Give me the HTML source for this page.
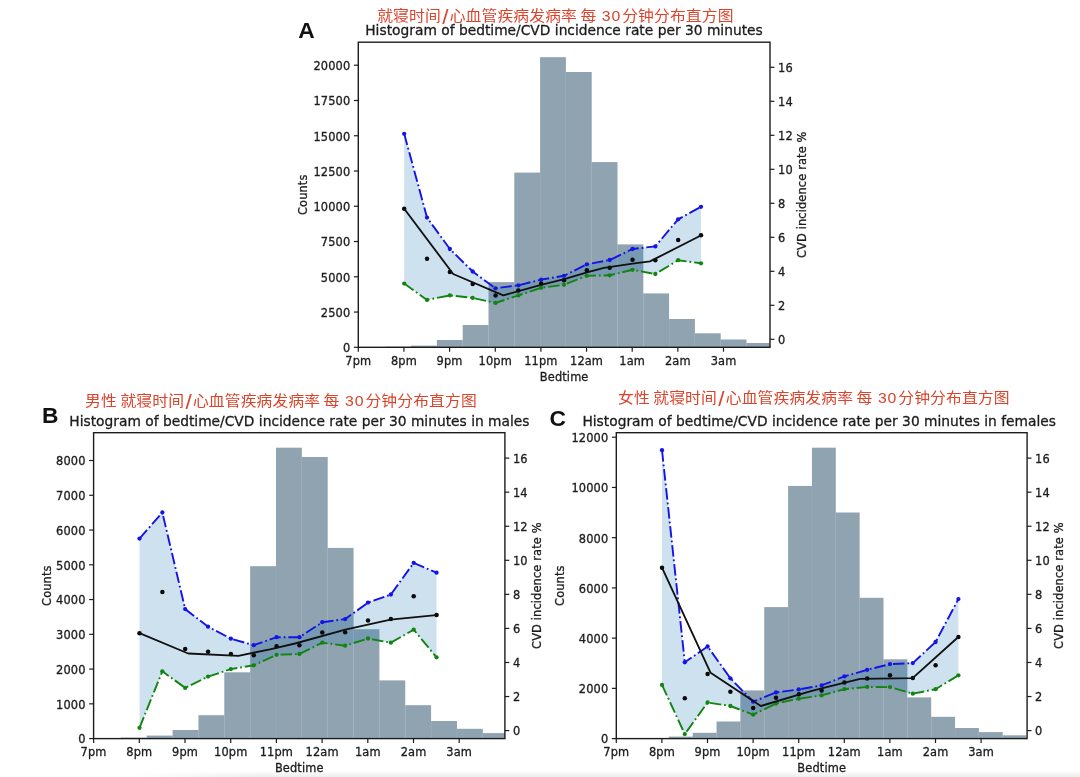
<!DOCTYPE html>
<html lang="zh">
<head>
<meta charset="utf-8">
<title>Histogram of bedtime/CVD incidence rate per 30 minutes</title>
<style>
html,body{margin:0;padding:0;background:#fff;}
body{width:1080px;height:777px;overflow:hidden;position:relative;}
svg{display:block;position:absolute;left:0;top:0;filter:blur(0.5px);}
svg text{font-family:"DejaVu Sans", "Liberation Sans", sans-serif;fill:#1c1c1c;stroke:#1c1c1c;stroke-width:0.3px;letter-spacing:0.13px;}
.shadow{position:absolute;left:130px;right:0;bottom:0;height:6px;background:linear-gradient(to bottom,rgba(0,0,0,0),rgba(0,0,0,0.075));-webkit-mask-image:linear-gradient(to right,rgba(0,0,0,0),rgba(0,0,0,1) 130px);mask-image:linear-gradient(to right,rgba(0,0,0,0),rgba(0,0,0,1) 130px);}
</style>
</head>
<body>
<svg width="1080" height="777" viewBox="0 0 1080 777">
<rect x="0" y="0" width="1080" height="777" fill="#ffffff"/>
<clipPath id="clipa"><rect x="358.3" y="42.2" width="411.7" height="305.1"/></clipPath>
<g clip-path="url(#clipa)">
<rect x="385.3" y="346.7" width="25.8" height="0.6" fill="#90a3b0"/>
<rect x="411.1" y="345.6" width="25.8" height="1.7" fill="#90a3b0"/>
<rect x="436.9" y="340" width="25.8" height="7.3" fill="#90a3b0"/>
<rect x="462.7" y="325" width="25.8" height="22.3" fill="#90a3b0"/>
<rect x="488.5" y="282.1" width="25.8" height="65.2" fill="#90a3b0"/>
<rect x="514.3" y="172.6" width="25.8" height="174.7" fill="#90a3b0"/>
<rect x="540.1" y="57.2" width="25.8" height="290.1" fill="#90a3b0"/>
<rect x="565.9" y="72" width="25.8" height="275.3" fill="#90a3b0"/>
<rect x="591.7" y="162.1" width="25.8" height="185.2" fill="#90a3b0"/>
<rect x="617.5" y="244.4" width="25.8" height="102.9" fill="#90a3b0"/>
<rect x="643.3" y="293.4" width="25.8" height="53.9" fill="#90a3b0"/>
<rect x="669.1" y="319" width="25.8" height="28.3" fill="#90a3b0"/>
<rect x="694.9" y="333.3" width="25.8" height="14" fill="#90a3b0"/>
<rect x="720.7" y="339.5" width="25.8" height="7.8" fill="#90a3b0"/>
<rect x="746.5" y="343" width="25.8" height="4.3" fill="#90a3b0"/>
<rect x="772.3" y="345" width="25.8" height="2.3" fill="#90a3b0"/>
<line x1="411.1" x2="411.1" y1="346.7" y2="347.3" stroke="#9aacb8" stroke-width="0.5"/>
<line x1="436.9" x2="436.9" y1="345.6" y2="347.3" stroke="#9aacb8" stroke-width="0.5"/>
<line x1="462.7" x2="462.7" y1="340" y2="347.3" stroke="#9aacb8" stroke-width="0.5"/>
<line x1="488.5" x2="488.5" y1="325" y2="347.3" stroke="#9aacb8" stroke-width="0.5"/>
<line x1="514.3" x2="514.3" y1="282.1" y2="347.3" stroke="#9aacb8" stroke-width="0.5"/>
<line x1="540.1" x2="540.1" y1="172.6" y2="347.3" stroke="#9aacb8" stroke-width="0.5"/>
<line x1="565.9" x2="565.9" y1="72" y2="347.3" stroke="#9aacb8" stroke-width="0.5"/>
<line x1="591.7" x2="591.7" y1="162.1" y2="347.3" stroke="#9aacb8" stroke-width="0.5"/>
<line x1="617.5" x2="617.5" y1="244.4" y2="347.3" stroke="#9aacb8" stroke-width="0.5"/>
<line x1="643.3" x2="643.3" y1="293.4" y2="347.3" stroke="#9aacb8" stroke-width="0.5"/>
<line x1="669.1" x2="669.1" y1="319" y2="347.3" stroke="#9aacb8" stroke-width="0.5"/>
<line x1="694.9" x2="694.9" y1="333.3" y2="347.3" stroke="#9aacb8" stroke-width="0.5"/>
<line x1="720.7" x2="720.7" y1="339.5" y2="347.3" stroke="#9aacb8" stroke-width="0.5"/>
<line x1="746.5" x2="746.5" y1="343" y2="347.3" stroke="#9aacb8" stroke-width="0.5"/>
<line x1="772.3" x2="772.3" y1="345" y2="347.3" stroke="#9aacb8" stroke-width="0.5"/>
<polygon points="404.2,133.8 427.03,217.6 449.86,249 472.69,271.5 495.52,288.3 518.35,285.3 541.18,279.6 564.01,275.8 586.84,264.3 609.67,260 632.5,249 655.33,246.4 678.16,219.3 700.99,206.8 700.99,263.3 678.16,260.2 655.33,274 632.5,269.8 609.67,275.3 586.84,275.8 564.01,284.8 541.18,287.8 518.35,295.4 495.52,302.9 472.69,297.9 449.86,295.4 427.03,299.9 404.2,283.6" fill="#1f77b4" fill-opacity="0.22"/>
<polyline points="404.2,283.6 427.03,299.9 449.86,295.4 472.69,297.9 495.52,302.9 518.35,295.4 541.18,287.8 564.01,284.8 586.84,275.8 609.67,275.3 632.5,269.8 655.33,274 678.16,260.2 700.99,263.3" fill="none" stroke="#128412" stroke-width="1.9" stroke-dasharray="11.5 2.9 1.8 2.9"/>
<circle cx="404.2" cy="283.6" r="2.15" fill="#128412"/>
<circle cx="427.03" cy="299.9" r="2.15" fill="#128412"/>
<circle cx="449.86" cy="295.4" r="2.15" fill="#128412"/>
<circle cx="472.69" cy="297.9" r="2.15" fill="#128412"/>
<circle cx="495.52" cy="302.9" r="2.15" fill="#128412"/>
<circle cx="518.35" cy="295.4" r="2.15" fill="#128412"/>
<circle cx="541.18" cy="287.8" r="2.15" fill="#128412"/>
<circle cx="564.01" cy="284.8" r="2.15" fill="#128412"/>
<circle cx="586.84" cy="275.8" r="2.15" fill="#128412"/>
<circle cx="609.67" cy="275.3" r="2.15" fill="#128412"/>
<circle cx="632.5" cy="269.8" r="2.15" fill="#128412"/>
<circle cx="655.33" cy="274" r="2.15" fill="#128412"/>
<circle cx="678.16" cy="260.2" r="2.15" fill="#128412"/>
<circle cx="700.99" cy="263.3" r="2.15" fill="#128412"/>
<polyline points="404.2,133.8 427.03,217.6 449.86,249 472.69,271.5 495.52,288.3 518.35,285.3 541.18,279.6 564.01,275.8 586.84,264.3 609.67,260 632.5,249 655.33,246.4 678.16,219.3 700.99,206.8" fill="none" stroke="#1414e6" stroke-width="1.9" stroke-dasharray="11.5 2.9 1.8 2.9"/>
<circle cx="404.2" cy="133.8" r="2.15" fill="#1414e6"/>
<circle cx="427.03" cy="217.6" r="2.15" fill="#1414e6"/>
<circle cx="449.86" cy="249" r="2.15" fill="#1414e6"/>
<circle cx="472.69" cy="271.5" r="2.15" fill="#1414e6"/>
<circle cx="495.52" cy="288.3" r="2.15" fill="#1414e6"/>
<circle cx="518.35" cy="285.3" r="2.15" fill="#1414e6"/>
<circle cx="541.18" cy="279.6" r="2.15" fill="#1414e6"/>
<circle cx="564.01" cy="275.8" r="2.15" fill="#1414e6"/>
<circle cx="586.84" cy="264.3" r="2.15" fill="#1414e6"/>
<circle cx="609.67" cy="260" r="2.15" fill="#1414e6"/>
<circle cx="632.5" cy="249" r="2.15" fill="#1414e6"/>
<circle cx="655.33" cy="246.4" r="2.15" fill="#1414e6"/>
<circle cx="678.16" cy="219.3" r="2.15" fill="#1414e6"/>
<circle cx="700.99" cy="206.8" r="2.15" fill="#1414e6"/>
<circle cx="404.2" cy="208.8" r="2.25" fill="#0a0a0a"/>
<circle cx="427.03" cy="258.7" r="2.25" fill="#0a0a0a"/>
<circle cx="449.86" cy="272" r="2.25" fill="#0a0a0a"/>
<circle cx="472.69" cy="284.1" r="2.25" fill="#0a0a0a"/>
<circle cx="495.52" cy="295.4" r="2.25" fill="#0a0a0a"/>
<circle cx="518.35" cy="290.4" r="2.25" fill="#0a0a0a"/>
<circle cx="541.18" cy="283.6" r="2.25" fill="#0a0a0a"/>
<circle cx="564.01" cy="280.3" r="2.25" fill="#0a0a0a"/>
<circle cx="586.84" cy="270.3" r="2.25" fill="#0a0a0a"/>
<circle cx="609.67" cy="267.8" r="2.25" fill="#0a0a0a"/>
<circle cx="632.5" cy="259.7" r="2.25" fill="#0a0a0a"/>
<circle cx="655.33" cy="260.2" r="2.25" fill="#0a0a0a"/>
<circle cx="678.16" cy="239.9" r="2.25" fill="#0a0a0a"/>
<circle cx="700.99" cy="235.2" r="2.25" fill="#0a0a0a"/>
<polyline points="404.2,208.8 453.2,274 503.3,295.4 541,284.8 564.3,279.1 587,272.3 604,267.8 632.6,263.6 650,261.4 701.3,235.2" fill="none" stroke="#111" stroke-width="1.85" stroke-linejoin="round"/>
</g>
<rect x="358.3" y="42.2" width="411.7" height="305.1" fill="none" stroke="#1c1c1c" stroke-width="1.4"/>
<line x1="358.3" x2="358.3" y1="347.3" y2="351.7" stroke="#1c1c1c" stroke-width="1.2"/>
<text x="358.3" y="364.5" text-anchor="middle" font-size="11.4">7pm</text>
<line x1="403.95" x2="403.95" y1="347.3" y2="351.7" stroke="#1c1c1c" stroke-width="1.2"/>
<text x="403.95" y="364.5" text-anchor="middle" font-size="11.4">8pm</text>
<line x1="449.6" x2="449.6" y1="347.3" y2="351.7" stroke="#1c1c1c" stroke-width="1.2"/>
<text x="449.6" y="364.5" text-anchor="middle" font-size="11.4">9pm</text>
<line x1="495.25" x2="495.25" y1="347.3" y2="351.7" stroke="#1c1c1c" stroke-width="1.2"/>
<text x="495.25" y="364.5" text-anchor="middle" font-size="11.4">10pm</text>
<line x1="540.9" x2="540.9" y1="347.3" y2="351.7" stroke="#1c1c1c" stroke-width="1.2"/>
<text x="540.9" y="364.5" text-anchor="middle" font-size="11.4">11pm</text>
<line x1="586.55" x2="586.55" y1="347.3" y2="351.7" stroke="#1c1c1c" stroke-width="1.2"/>
<text x="586.55" y="364.5" text-anchor="middle" font-size="11.4">12am</text>
<line x1="632.2" x2="632.2" y1="347.3" y2="351.7" stroke="#1c1c1c" stroke-width="1.2"/>
<text x="632.2" y="364.5" text-anchor="middle" font-size="11.4">1am</text>
<line x1="677.85" x2="677.85" y1="347.3" y2="351.7" stroke="#1c1c1c" stroke-width="1.2"/>
<text x="677.85" y="364.5" text-anchor="middle" font-size="11.4">2am</text>
<line x1="723.5" x2="723.5" y1="347.3" y2="351.7" stroke="#1c1c1c" stroke-width="1.2"/>
<text x="723.5" y="364.5" text-anchor="middle" font-size="11.4">3am</text>
<text x="564.15" y="380.6" text-anchor="middle" font-size="11.4">Bedtime</text>
<line x1="353.9" x2="358.3" y1="347.3" y2="347.3" stroke="#1c1c1c" stroke-width="1.2"/>
<text x="350.3" y="352.15" text-anchor="end" font-size="11.4">0</text>
<line x1="353.9" x2="358.3" y1="312.04" y2="312.04" stroke="#1c1c1c" stroke-width="1.2"/>
<text x="350.3" y="316.89" text-anchor="end" font-size="11.4">2500</text>
<line x1="353.9" x2="358.3" y1="276.78" y2="276.78" stroke="#1c1c1c" stroke-width="1.2"/>
<text x="350.3" y="281.63" text-anchor="end" font-size="11.4">5000</text>
<line x1="353.9" x2="358.3" y1="241.52" y2="241.52" stroke="#1c1c1c" stroke-width="1.2"/>
<text x="350.3" y="246.37" text-anchor="end" font-size="11.4">7500</text>
<line x1="353.9" x2="358.3" y1="206.26" y2="206.26" stroke="#1c1c1c" stroke-width="1.2"/>
<text x="350.3" y="211.11" text-anchor="end" font-size="11.4">10000</text>
<line x1="353.9" x2="358.3" y1="171" y2="171" stroke="#1c1c1c" stroke-width="1.2"/>
<text x="350.3" y="175.85" text-anchor="end" font-size="11.4">12500</text>
<line x1="353.9" x2="358.3" y1="135.74" y2="135.74" stroke="#1c1c1c" stroke-width="1.2"/>
<text x="350.3" y="140.59" text-anchor="end" font-size="11.4">15000</text>
<line x1="353.9" x2="358.3" y1="100.48" y2="100.48" stroke="#1c1c1c" stroke-width="1.2"/>
<text x="350.3" y="105.33" text-anchor="end" font-size="11.4">17500</text>
<line x1="353.9" x2="358.3" y1="65.22" y2="65.22" stroke="#1c1c1c" stroke-width="1.2"/>
<text x="350.3" y="70.07" text-anchor="end" font-size="11.4">20000</text>
<line x1="770" x2="774.4" y1="339.3" y2="339.3" stroke="#1c1c1c" stroke-width="1.2"/>
<text x="778" y="344.15" text-anchor="start" font-size="11.4">0</text>
<line x1="770" x2="774.4" y1="305.3" y2="305.3" stroke="#1c1c1c" stroke-width="1.2"/>
<text x="778" y="310.15" text-anchor="start" font-size="11.4">2</text>
<line x1="770" x2="774.4" y1="271.3" y2="271.3" stroke="#1c1c1c" stroke-width="1.2"/>
<text x="778" y="276.15" text-anchor="start" font-size="11.4">4</text>
<line x1="770" x2="774.4" y1="237.3" y2="237.3" stroke="#1c1c1c" stroke-width="1.2"/>
<text x="778" y="242.15" text-anchor="start" font-size="11.4">6</text>
<line x1="770" x2="774.4" y1="203.3" y2="203.3" stroke="#1c1c1c" stroke-width="1.2"/>
<text x="778" y="208.15" text-anchor="start" font-size="11.4">8</text>
<line x1="770" x2="774.4" y1="169.3" y2="169.3" stroke="#1c1c1c" stroke-width="1.2"/>
<text x="778" y="174.15" text-anchor="start" font-size="11.4">10</text>
<line x1="770" x2="774.4" y1="135.3" y2="135.3" stroke="#1c1c1c" stroke-width="1.2"/>
<text x="778" y="140.15" text-anchor="start" font-size="11.4">12</text>
<line x1="770" x2="774.4" y1="101.3" y2="101.3" stroke="#1c1c1c" stroke-width="1.2"/>
<text x="778" y="106.15" text-anchor="start" font-size="11.4">14</text>
<line x1="770" x2="774.4" y1="67.3" y2="67.3" stroke="#1c1c1c" stroke-width="1.2"/>
<text x="778" y="72.15" text-anchor="start" font-size="11.4">16</text>
<text transform="translate(307,194.75) rotate(-90)" text-anchor="middle" font-size="11.4">Counts</text>
<text transform="translate(806,194.75) rotate(-90)" text-anchor="middle" font-size="11.4">CVD incidence rate %</text>
<text x="564" y="34.9" text-anchor="middle" font-size="13.8" style="letter-spacing:0">Histogram of bedtime/CVD incidence rate per 30 minutes</text>
<text transform="scale(1,0.9)" font-size="15.8" xml:space="preserve" style="fill:#dc432b;stroke:none;font-family:'Liberation Sans', 'Noto Sans CJK SC', sans-serif;font-weight:400"><tspan x="377.2" y="23.22">就寝时间</tspan><tspan x="442.27" y="26.32" font-size="22.5">/</tspan><tspan x="449.7" y="23.22">心血管疾病发病率</tspan><tspan x="576.1" y="23.22"> </tspan><tspan x="580.4" y="23.22">每</tspan><tspan x="596.2" y="23.22"> </tspan><tspan x="601.8" y="23.22" letter-spacing="0.9">30</tspan><tspan x="622.2" y="23.22">分钟分布直方图</tspan></text>
<text x="298.3" y="37.8" font-size="22.8" style="fill:#111;stroke:none;font-family:'Liberation Sans', sans-serif;font-weight:700">A</text>
<clipPath id="clipb"><rect x="93.6" y="432.7" width="411.3" height="305.9"/></clipPath>
<g clip-path="url(#clipb)">
<rect x="120.9" y="737.6" width="25.85" height="1" fill="#90a3b0"/>
<rect x="146.75" y="735.6" width="25.85" height="3" fill="#90a3b0"/>
<rect x="172.6" y="730" width="25.85" height="8.6" fill="#90a3b0"/>
<rect x="198.45" y="715.2" width="25.85" height="23.4" fill="#90a3b0"/>
<rect x="224.3" y="672.3" width="25.85" height="66.3" fill="#90a3b0"/>
<rect x="250.15" y="566.2" width="25.85" height="172.4" fill="#90a3b0"/>
<rect x="276" y="447.7" width="25.85" height="290.9" fill="#90a3b0"/>
<rect x="301.85" y="457" width="25.85" height="281.6" fill="#90a3b0"/>
<rect x="327.7" y="547.9" width="25.85" height="190.7" fill="#90a3b0"/>
<rect x="353.55" y="629.2" width="25.85" height="109.4" fill="#90a3b0"/>
<rect x="379.4" y="680.4" width="25.85" height="58.2" fill="#90a3b0"/>
<rect x="405.25" y="705.2" width="25.85" height="33.4" fill="#90a3b0"/>
<rect x="431.1" y="721" width="25.85" height="17.6" fill="#90a3b0"/>
<rect x="456.95" y="728.8" width="25.85" height="9.8" fill="#90a3b0"/>
<rect x="482.8" y="733.1" width="25.85" height="5.5" fill="#90a3b0"/>
<line x1="146.75" x2="146.75" y1="737.6" y2="738.6" stroke="#9aacb8" stroke-width="0.5"/>
<line x1="172.6" x2="172.6" y1="735.6" y2="738.6" stroke="#9aacb8" stroke-width="0.5"/>
<line x1="198.45" x2="198.45" y1="730" y2="738.6" stroke="#9aacb8" stroke-width="0.5"/>
<line x1="224.3" x2="224.3" y1="715.2" y2="738.6" stroke="#9aacb8" stroke-width="0.5"/>
<line x1="250.15" x2="250.15" y1="672.3" y2="738.6" stroke="#9aacb8" stroke-width="0.5"/>
<line x1="276" x2="276" y1="566.2" y2="738.6" stroke="#9aacb8" stroke-width="0.5"/>
<line x1="301.85" x2="301.85" y1="457" y2="738.6" stroke="#9aacb8" stroke-width="0.5"/>
<line x1="327.7" x2="327.7" y1="547.9" y2="738.6" stroke="#9aacb8" stroke-width="0.5"/>
<line x1="353.55" x2="353.55" y1="629.2" y2="738.6" stroke="#9aacb8" stroke-width="0.5"/>
<line x1="379.4" x2="379.4" y1="680.4" y2="738.6" stroke="#9aacb8" stroke-width="0.5"/>
<line x1="405.25" x2="405.25" y1="705.2" y2="738.6" stroke="#9aacb8" stroke-width="0.5"/>
<line x1="431.1" x2="431.1" y1="721" y2="738.6" stroke="#9aacb8" stroke-width="0.5"/>
<line x1="456.95" x2="456.95" y1="728.8" y2="738.6" stroke="#9aacb8" stroke-width="0.5"/>
<line x1="482.8" x2="482.8" y1="733.1" y2="738.6" stroke="#9aacb8" stroke-width="0.5"/>
<polygon points="139.5,538.6 162.35,512.5 185.2,609.1 208.05,626.7 230.9,638.7 253.75,645.2 276.6,637.2 299.45,637.2 322.3,622.2 345.15,619.1 368,602.6 390.85,594.5 413.7,562.9 436.55,572.7 436.55,657.3 413.7,629.7 390.85,642.7 368,638.5 345.15,645.7 322.3,642.7 299.45,654 276.6,654.8 253.75,665.3 230.9,669.1 208.05,676.6 185.2,687.9 162.35,671.3 139.5,727.8" fill="#1f77b4" fill-opacity="0.22"/>
<polyline points="139.5,727.8 162.35,671.3 185.2,687.9 208.05,676.6 230.9,669.1 253.75,665.3 276.6,654.8 299.45,654 322.3,642.7 345.15,645.7 368,638.5 390.85,642.7 413.7,629.7 436.55,657.3" fill="none" stroke="#128412" stroke-width="1.9" stroke-dasharray="11.5 2.9 1.8 2.9"/>
<circle cx="139.5" cy="727.8" r="2.15" fill="#128412"/>
<circle cx="162.35" cy="671.3" r="2.15" fill="#128412"/>
<circle cx="185.2" cy="687.9" r="2.15" fill="#128412"/>
<circle cx="208.05" cy="676.6" r="2.15" fill="#128412"/>
<circle cx="230.9" cy="669.1" r="2.15" fill="#128412"/>
<circle cx="253.75" cy="665.3" r="2.15" fill="#128412"/>
<circle cx="276.6" cy="654.8" r="2.15" fill="#128412"/>
<circle cx="299.45" cy="654" r="2.15" fill="#128412"/>
<circle cx="322.3" cy="642.7" r="2.15" fill="#128412"/>
<circle cx="345.15" cy="645.7" r="2.15" fill="#128412"/>
<circle cx="368" cy="638.5" r="2.15" fill="#128412"/>
<circle cx="390.85" cy="642.7" r="2.15" fill="#128412"/>
<circle cx="413.7" cy="629.7" r="2.15" fill="#128412"/>
<circle cx="436.55" cy="657.3" r="2.15" fill="#128412"/>
<polyline points="139.5,538.6 162.35,512.5 185.2,609.1 208.05,626.7 230.9,638.7 253.75,645.2 276.6,637.2 299.45,637.2 322.3,622.2 345.15,619.1 368,602.6 390.85,594.5 413.7,562.9 436.55,572.7" fill="none" stroke="#1414e6" stroke-width="1.9" stroke-dasharray="11.5 2.9 1.8 2.9"/>
<circle cx="139.5" cy="538.6" r="2.15" fill="#1414e6"/>
<circle cx="162.35" cy="512.5" r="2.15" fill="#1414e6"/>
<circle cx="185.2" cy="609.1" r="2.15" fill="#1414e6"/>
<circle cx="208.05" cy="626.7" r="2.15" fill="#1414e6"/>
<circle cx="230.9" cy="638.7" r="2.15" fill="#1414e6"/>
<circle cx="253.75" cy="645.2" r="2.15" fill="#1414e6"/>
<circle cx="276.6" cy="637.2" r="2.15" fill="#1414e6"/>
<circle cx="299.45" cy="637.2" r="2.15" fill="#1414e6"/>
<circle cx="322.3" cy="622.2" r="2.15" fill="#1414e6"/>
<circle cx="345.15" cy="619.1" r="2.15" fill="#1414e6"/>
<circle cx="368" cy="602.6" r="2.15" fill="#1414e6"/>
<circle cx="390.85" cy="594.5" r="2.15" fill="#1414e6"/>
<circle cx="413.7" cy="562.9" r="2.15" fill="#1414e6"/>
<circle cx="436.55" cy="572.7" r="2.15" fill="#1414e6"/>
<circle cx="139.5" cy="633.2" r="2.25" fill="#0a0a0a"/>
<circle cx="162.35" cy="592" r="2.25" fill="#0a0a0a"/>
<circle cx="185.2" cy="649" r="2.25" fill="#0a0a0a"/>
<circle cx="208.05" cy="651.8" r="2.25" fill="#0a0a0a"/>
<circle cx="230.9" cy="654" r="2.25" fill="#0a0a0a"/>
<circle cx="253.75" cy="655.3" r="2.25" fill="#0a0a0a"/>
<circle cx="276.6" cy="646.2" r="2.25" fill="#0a0a0a"/>
<circle cx="299.45" cy="645.2" r="2.25" fill="#0a0a0a"/>
<circle cx="322.3" cy="632.4" r="2.25" fill="#0a0a0a"/>
<circle cx="345.15" cy="632.2" r="2.25" fill="#0a0a0a"/>
<circle cx="368" cy="620.6" r="2.25" fill="#0a0a0a"/>
<circle cx="390.85" cy="618.9" r="2.25" fill="#0a0a0a"/>
<circle cx="413.7" cy="596.3" r="2.25" fill="#0a0a0a"/>
<circle cx="436.55" cy="615.1" r="2.25" fill="#0a0a0a"/>
<polyline points="139.5,633.2 188.2,653.5 238.4,655.8 270,649.3 295.1,643.5 345.3,629.7 390.5,619.6 436.1,615.1" fill="none" stroke="#111" stroke-width="1.85" stroke-linejoin="round"/>
</g>
<rect x="93.6" y="432.7" width="411.3" height="305.9" fill="none" stroke="#1c1c1c" stroke-width="1.4"/>
<line x1="93.6" x2="93.6" y1="738.6" y2="743" stroke="#1c1c1c" stroke-width="1.2"/>
<text x="93.6" y="755.8" text-anchor="middle" font-size="11.4">7pm</text>
<line x1="139.3" x2="139.3" y1="738.6" y2="743" stroke="#1c1c1c" stroke-width="1.2"/>
<text x="139.3" y="755.8" text-anchor="middle" font-size="11.4">8pm</text>
<line x1="185" x2="185" y1="738.6" y2="743" stroke="#1c1c1c" stroke-width="1.2"/>
<text x="185" y="755.8" text-anchor="middle" font-size="11.4">9pm</text>
<line x1="230.7" x2="230.7" y1="738.6" y2="743" stroke="#1c1c1c" stroke-width="1.2"/>
<text x="230.7" y="755.8" text-anchor="middle" font-size="11.4">10pm</text>
<line x1="276.4" x2="276.4" y1="738.6" y2="743" stroke="#1c1c1c" stroke-width="1.2"/>
<text x="276.4" y="755.8" text-anchor="middle" font-size="11.4">11pm</text>
<line x1="322.1" x2="322.1" y1="738.6" y2="743" stroke="#1c1c1c" stroke-width="1.2"/>
<text x="322.1" y="755.8" text-anchor="middle" font-size="11.4">12am</text>
<line x1="367.8" x2="367.8" y1="738.6" y2="743" stroke="#1c1c1c" stroke-width="1.2"/>
<text x="367.8" y="755.8" text-anchor="middle" font-size="11.4">1am</text>
<line x1="413.5" x2="413.5" y1="738.6" y2="743" stroke="#1c1c1c" stroke-width="1.2"/>
<text x="413.5" y="755.8" text-anchor="middle" font-size="11.4">2am</text>
<line x1="459.2" x2="459.2" y1="738.6" y2="743" stroke="#1c1c1c" stroke-width="1.2"/>
<text x="459.2" y="755.8" text-anchor="middle" font-size="11.4">3am</text>
<text x="299.25" y="771.9" text-anchor="middle" font-size="11.4">Bedtime</text>
<line x1="89.2" x2="93.6" y1="738.6" y2="738.6" stroke="#1c1c1c" stroke-width="1.2"/>
<text x="85.6" y="743.45" text-anchor="end" font-size="11.4">0</text>
<line x1="89.2" x2="93.6" y1="703.84" y2="703.84" stroke="#1c1c1c" stroke-width="1.2"/>
<text x="85.6" y="708.69" text-anchor="end" font-size="11.4">1000</text>
<line x1="89.2" x2="93.6" y1="669.08" y2="669.08" stroke="#1c1c1c" stroke-width="1.2"/>
<text x="85.6" y="673.93" text-anchor="end" font-size="11.4">2000</text>
<line x1="89.2" x2="93.6" y1="634.32" y2="634.32" stroke="#1c1c1c" stroke-width="1.2"/>
<text x="85.6" y="639.17" text-anchor="end" font-size="11.4">3000</text>
<line x1="89.2" x2="93.6" y1="599.56" y2="599.56" stroke="#1c1c1c" stroke-width="1.2"/>
<text x="85.6" y="604.41" text-anchor="end" font-size="11.4">4000</text>
<line x1="89.2" x2="93.6" y1="564.8" y2="564.8" stroke="#1c1c1c" stroke-width="1.2"/>
<text x="85.6" y="569.65" text-anchor="end" font-size="11.4">5000</text>
<line x1="89.2" x2="93.6" y1="530.04" y2="530.04" stroke="#1c1c1c" stroke-width="1.2"/>
<text x="85.6" y="534.89" text-anchor="end" font-size="11.4">6000</text>
<line x1="89.2" x2="93.6" y1="495.28" y2="495.28" stroke="#1c1c1c" stroke-width="1.2"/>
<text x="85.6" y="500.13" text-anchor="end" font-size="11.4">7000</text>
<line x1="89.2" x2="93.6" y1="460.52" y2="460.52" stroke="#1c1c1c" stroke-width="1.2"/>
<text x="85.6" y="465.37" text-anchor="end" font-size="11.4">8000</text>
<line x1="504.9" x2="509.3" y1="730.6" y2="730.6" stroke="#1c1c1c" stroke-width="1.2"/>
<text x="512.9" y="735.45" text-anchor="start" font-size="11.4">0</text>
<line x1="504.9" x2="509.3" y1="696.54" y2="696.54" stroke="#1c1c1c" stroke-width="1.2"/>
<text x="512.9" y="701.39" text-anchor="start" font-size="11.4">2</text>
<line x1="504.9" x2="509.3" y1="662.48" y2="662.48" stroke="#1c1c1c" stroke-width="1.2"/>
<text x="512.9" y="667.33" text-anchor="start" font-size="11.4">4</text>
<line x1="504.9" x2="509.3" y1="628.42" y2="628.42" stroke="#1c1c1c" stroke-width="1.2"/>
<text x="512.9" y="633.27" text-anchor="start" font-size="11.4">6</text>
<line x1="504.9" x2="509.3" y1="594.36" y2="594.36" stroke="#1c1c1c" stroke-width="1.2"/>
<text x="512.9" y="599.21" text-anchor="start" font-size="11.4">8</text>
<line x1="504.9" x2="509.3" y1="560.3" y2="560.3" stroke="#1c1c1c" stroke-width="1.2"/>
<text x="512.9" y="565.15" text-anchor="start" font-size="11.4">10</text>
<line x1="504.9" x2="509.3" y1="526.24" y2="526.24" stroke="#1c1c1c" stroke-width="1.2"/>
<text x="512.9" y="531.09" text-anchor="start" font-size="11.4">12</text>
<line x1="504.9" x2="509.3" y1="492.18" y2="492.18" stroke="#1c1c1c" stroke-width="1.2"/>
<text x="512.9" y="497.03" text-anchor="start" font-size="11.4">14</text>
<line x1="504.9" x2="509.3" y1="458.12" y2="458.12" stroke="#1c1c1c" stroke-width="1.2"/>
<text x="512.9" y="462.97" text-anchor="start" font-size="11.4">16</text>
<text transform="translate(51,585.65) rotate(-90)" text-anchor="middle" font-size="11.4">Counts</text>
<text transform="translate(541,585.65) rotate(-90)" text-anchor="middle" font-size="11.4">CVD incidence rate %</text>
<text x="299.4" y="426" text-anchor="middle" font-size="13.8" style="letter-spacing:0">Histogram of bedtime/CVD incidence rate per 30 minutes in males</text>
<text transform="scale(1,0.9)" font-size="15.8" xml:space="preserve" style="fill:#dc432b;stroke:none;font-family:'Liberation Sans', 'Noto Sans CJK SC', sans-serif;font-weight:400"><tspan x="85.1" y="451.33">男性 </tspan><tspan x="120.4" y="451.33">就寝时间</tspan><tspan x="185.47" y="454.43" font-size="22.5">/</tspan><tspan x="192.9" y="451.33">心血管疾病发病率</tspan><tspan x="319.3" y="451.33"> </tspan><tspan x="323.6" y="451.33">每</tspan><tspan x="339.4" y="451.33"> </tspan><tspan x="345" y="451.33" letter-spacing="0.9">30</tspan><tspan x="365.4" y="451.33">分钟分布直方图</tspan></text>
<text x="42" y="422.8" font-size="22.8" style="fill:#111;stroke:none;font-family:'Liberation Sans', sans-serif;font-weight:700">B</text>
<clipPath id="clipc"><rect x="616.3" y="432.7" width="410.8" height="305.9"/></clipPath>
<g clip-path="url(#clipc)">
<rect x="645" y="738" width="23.85" height="0.6" fill="#90a3b0"/>
<rect x="668.85" y="736.6" width="23.85" height="2" fill="#90a3b0"/>
<rect x="692.7" y="732.8" width="23.85" height="5.8" fill="#90a3b0"/>
<rect x="716.55" y="721.5" width="23.85" height="17.1" fill="#90a3b0"/>
<rect x="740.4" y="690.4" width="23.85" height="48.2" fill="#90a3b0"/>
<rect x="764.25" y="607.1" width="23.85" height="131.5" fill="#90a3b0"/>
<rect x="788.1" y="485.9" width="23.85" height="252.7" fill="#90a3b0"/>
<rect x="811.95" y="447.7" width="23.85" height="290.9" fill="#90a3b0"/>
<rect x="835.8" y="512.5" width="23.85" height="226.1" fill="#90a3b0"/>
<rect x="859.65" y="597.8" width="23.85" height="140.8" fill="#90a3b0"/>
<rect x="883.5" y="659.3" width="23.85" height="79.3" fill="#90a3b0"/>
<rect x="907.35" y="697.4" width="23.85" height="41.2" fill="#90a3b0"/>
<rect x="931.2" y="716.8" width="23.85" height="21.8" fill="#90a3b0"/>
<rect x="955.05" y="728" width="23.85" height="10.6" fill="#90a3b0"/>
<rect x="978.9" y="732.1" width="23.85" height="6.5" fill="#90a3b0"/>
<rect x="1002.75" y="735.3" width="23.85" height="3.3" fill="#90a3b0"/>
<line x1="668.85" x2="668.85" y1="738" y2="738.6" stroke="#9aacb8" stroke-width="0.5"/>
<line x1="692.7" x2="692.7" y1="736.6" y2="738.6" stroke="#9aacb8" stroke-width="0.5"/>
<line x1="716.55" x2="716.55" y1="732.8" y2="738.6" stroke="#9aacb8" stroke-width="0.5"/>
<line x1="740.4" x2="740.4" y1="721.5" y2="738.6" stroke="#9aacb8" stroke-width="0.5"/>
<line x1="764.25" x2="764.25" y1="690.4" y2="738.6" stroke="#9aacb8" stroke-width="0.5"/>
<line x1="788.1" x2="788.1" y1="607.1" y2="738.6" stroke="#9aacb8" stroke-width="0.5"/>
<line x1="811.95" x2="811.95" y1="485.9" y2="738.6" stroke="#9aacb8" stroke-width="0.5"/>
<line x1="835.8" x2="835.8" y1="512.5" y2="738.6" stroke="#9aacb8" stroke-width="0.5"/>
<line x1="859.65" x2="859.65" y1="597.8" y2="738.6" stroke="#9aacb8" stroke-width="0.5"/>
<line x1="883.5" x2="883.5" y1="659.3" y2="738.6" stroke="#9aacb8" stroke-width="0.5"/>
<line x1="907.35" x2="907.35" y1="697.4" y2="738.6" stroke="#9aacb8" stroke-width="0.5"/>
<line x1="931.2" x2="931.2" y1="716.8" y2="738.6" stroke="#9aacb8" stroke-width="0.5"/>
<line x1="955.05" x2="955.05" y1="728" y2="738.6" stroke="#9aacb8" stroke-width="0.5"/>
<line x1="978.9" x2="978.9" y1="732.1" y2="738.6" stroke="#9aacb8" stroke-width="0.5"/>
<line x1="1002.75" x2="1002.75" y1="735.3" y2="738.6" stroke="#9aacb8" stroke-width="0.5"/>
<polygon points="662,450.2 684.8,662.3 707.6,646.5 730.4,678.3 753.2,701.7 776,692.4 798.8,689.4 821.6,685.4 844.4,676.4 867.2,669.8 890,664.1 912.8,663.1 935.6,642 958.4,599.1 958.4,675.3 935.6,689.2 912.8,693.7 890,687.1 867.2,686.9 844.4,689.2 821.6,695.4 798.8,698.7 776,703.5 753.2,714.7 730.4,706 707.6,702.5 684.8,734.1 662,684.9" fill="#1f77b4" fill-opacity="0.22"/>
<polyline points="662,684.9 684.8,734.1 707.6,702.5 730.4,706 753.2,714.7 776,703.5 798.8,698.7 821.6,695.4 844.4,689.2 867.2,686.9 890,687.1 912.8,693.7 935.6,689.2 958.4,675.3" fill="none" stroke="#128412" stroke-width="1.9" stroke-dasharray="11.5 2.9 1.8 2.9"/>
<circle cx="662" cy="684.9" r="2.15" fill="#128412"/>
<circle cx="684.8" cy="734.1" r="2.15" fill="#128412"/>
<circle cx="707.6" cy="702.5" r="2.15" fill="#128412"/>
<circle cx="730.4" cy="706" r="2.15" fill="#128412"/>
<circle cx="753.2" cy="714.7" r="2.15" fill="#128412"/>
<circle cx="776" cy="703.5" r="2.15" fill="#128412"/>
<circle cx="798.8" cy="698.7" r="2.15" fill="#128412"/>
<circle cx="821.6" cy="695.4" r="2.15" fill="#128412"/>
<circle cx="844.4" cy="689.2" r="2.15" fill="#128412"/>
<circle cx="867.2" cy="686.9" r="2.15" fill="#128412"/>
<circle cx="890" cy="687.1" r="2.15" fill="#128412"/>
<circle cx="912.8" cy="693.7" r="2.15" fill="#128412"/>
<circle cx="935.6" cy="689.2" r="2.15" fill="#128412"/>
<circle cx="958.4" cy="675.3" r="2.15" fill="#128412"/>
<polyline points="662,450.2 684.8,662.3 707.6,646.5 730.4,678.3 753.2,701.7 776,692.4 798.8,689.4 821.6,685.4 844.4,676.4 867.2,669.8 890,664.1 912.8,663.1 935.6,642 958.4,599.1" fill="none" stroke="#1414e6" stroke-width="1.9" stroke-dasharray="11.5 2.9 1.8 2.9"/>
<circle cx="662" cy="450.2" r="2.15" fill="#1414e6"/>
<circle cx="684.8" cy="662.3" r="2.15" fill="#1414e6"/>
<circle cx="707.6" cy="646.5" r="2.15" fill="#1414e6"/>
<circle cx="730.4" cy="678.3" r="2.15" fill="#1414e6"/>
<circle cx="753.2" cy="701.7" r="2.15" fill="#1414e6"/>
<circle cx="776" cy="692.4" r="2.15" fill="#1414e6"/>
<circle cx="798.8" cy="689.4" r="2.15" fill="#1414e6"/>
<circle cx="821.6" cy="685.4" r="2.15" fill="#1414e6"/>
<circle cx="844.4" cy="676.4" r="2.15" fill="#1414e6"/>
<circle cx="867.2" cy="669.8" r="2.15" fill="#1414e6"/>
<circle cx="890" cy="664.1" r="2.15" fill="#1414e6"/>
<circle cx="912.8" cy="663.1" r="2.15" fill="#1414e6"/>
<circle cx="935.6" cy="642" r="2.15" fill="#1414e6"/>
<circle cx="958.4" cy="599.1" r="2.15" fill="#1414e6"/>
<circle cx="662" cy="567.7" r="2.25" fill="#0a0a0a"/>
<circle cx="684.8" cy="698.2" r="2.25" fill="#0a0a0a"/>
<circle cx="707.6" cy="674.1" r="2.25" fill="#0a0a0a"/>
<circle cx="730.4" cy="691.7" r="2.25" fill="#0a0a0a"/>
<circle cx="753.2" cy="708" r="2.25" fill="#0a0a0a"/>
<circle cx="776" cy="697.7" r="2.25" fill="#0a0a0a"/>
<circle cx="798.8" cy="694.2" r="2.25" fill="#0a0a0a"/>
<circle cx="821.6" cy="690.4" r="2.25" fill="#0a0a0a"/>
<circle cx="844.4" cy="682.6" r="2.25" fill="#0a0a0a"/>
<circle cx="867.2" cy="678.4" r="2.25" fill="#0a0a0a"/>
<circle cx="890" cy="675.3" r="2.25" fill="#0a0a0a"/>
<circle cx="912.8" cy="678.1" r="2.25" fill="#0a0a0a"/>
<circle cx="935.6" cy="665.3" r="2.25" fill="#0a0a0a"/>
<circle cx="958.4" cy="637" r="2.25" fill="#0a0a0a"/>
<polyline points="662,567.7 710.6,672.8 760.8,706 810,691.4 821.5,688.4 860.2,678.9 912.6,678.1 958.3,637" fill="none" stroke="#111" stroke-width="1.85" stroke-linejoin="round"/>
</g>
<rect x="616.3" y="432.7" width="410.8" height="305.9" fill="none" stroke="#1c1c1c" stroke-width="1.4"/>
<line x1="616.3" x2="616.3" y1="738.6" y2="743" stroke="#1c1c1c" stroke-width="1.2"/>
<text x="616.3" y="755.8" text-anchor="middle" font-size="11.4">7pm</text>
<line x1="661.9" x2="661.9" y1="738.6" y2="743" stroke="#1c1c1c" stroke-width="1.2"/>
<text x="661.9" y="755.8" text-anchor="middle" font-size="11.4">8pm</text>
<line x1="707.5" x2="707.5" y1="738.6" y2="743" stroke="#1c1c1c" stroke-width="1.2"/>
<text x="707.5" y="755.8" text-anchor="middle" font-size="11.4">9pm</text>
<line x1="753.1" x2="753.1" y1="738.6" y2="743" stroke="#1c1c1c" stroke-width="1.2"/>
<text x="753.1" y="755.8" text-anchor="middle" font-size="11.4">10pm</text>
<line x1="798.7" x2="798.7" y1="738.6" y2="743" stroke="#1c1c1c" stroke-width="1.2"/>
<text x="798.7" y="755.8" text-anchor="middle" font-size="11.4">11pm</text>
<line x1="844.3" x2="844.3" y1="738.6" y2="743" stroke="#1c1c1c" stroke-width="1.2"/>
<text x="844.3" y="755.8" text-anchor="middle" font-size="11.4">12am</text>
<line x1="889.9" x2="889.9" y1="738.6" y2="743" stroke="#1c1c1c" stroke-width="1.2"/>
<text x="889.9" y="755.8" text-anchor="middle" font-size="11.4">1am</text>
<line x1="935.5" x2="935.5" y1="738.6" y2="743" stroke="#1c1c1c" stroke-width="1.2"/>
<text x="935.5" y="755.8" text-anchor="middle" font-size="11.4">2am</text>
<line x1="981.1" x2="981.1" y1="738.6" y2="743" stroke="#1c1c1c" stroke-width="1.2"/>
<text x="981.1" y="755.8" text-anchor="middle" font-size="11.4">3am</text>
<text x="821.7" y="771.9" text-anchor="middle" font-size="11.4">Bedtime</text>
<line x1="611.9" x2="616.3" y1="738.6" y2="738.6" stroke="#1c1c1c" stroke-width="1.2"/>
<text x="608.3" y="743.45" text-anchor="end" font-size="11.4">0</text>
<line x1="611.9" x2="616.3" y1="688.37" y2="688.37" stroke="#1c1c1c" stroke-width="1.2"/>
<text x="608.3" y="693.22" text-anchor="end" font-size="11.4">2000</text>
<line x1="611.9" x2="616.3" y1="638.14" y2="638.14" stroke="#1c1c1c" stroke-width="1.2"/>
<text x="608.3" y="642.99" text-anchor="end" font-size="11.4">4000</text>
<line x1="611.9" x2="616.3" y1="587.91" y2="587.91" stroke="#1c1c1c" stroke-width="1.2"/>
<text x="608.3" y="592.76" text-anchor="end" font-size="11.4">6000</text>
<line x1="611.9" x2="616.3" y1="537.68" y2="537.68" stroke="#1c1c1c" stroke-width="1.2"/>
<text x="608.3" y="542.53" text-anchor="end" font-size="11.4">8000</text>
<line x1="611.9" x2="616.3" y1="487.45" y2="487.45" stroke="#1c1c1c" stroke-width="1.2"/>
<text x="608.3" y="492.3" text-anchor="end" font-size="11.4">10000</text>
<line x1="611.9" x2="616.3" y1="437.22" y2="437.22" stroke="#1c1c1c" stroke-width="1.2"/>
<text x="608.3" y="442.07" text-anchor="end" font-size="11.4">12000</text>
<line x1="1027.1" x2="1031.5" y1="730.6" y2="730.6" stroke="#1c1c1c" stroke-width="1.2"/>
<text x="1035.1" y="735.45" text-anchor="start" font-size="11.4">0</text>
<line x1="1027.1" x2="1031.5" y1="696.54" y2="696.54" stroke="#1c1c1c" stroke-width="1.2"/>
<text x="1035.1" y="701.39" text-anchor="start" font-size="11.4">2</text>
<line x1="1027.1" x2="1031.5" y1="662.48" y2="662.48" stroke="#1c1c1c" stroke-width="1.2"/>
<text x="1035.1" y="667.33" text-anchor="start" font-size="11.4">4</text>
<line x1="1027.1" x2="1031.5" y1="628.42" y2="628.42" stroke="#1c1c1c" stroke-width="1.2"/>
<text x="1035.1" y="633.27" text-anchor="start" font-size="11.4">6</text>
<line x1="1027.1" x2="1031.5" y1="594.36" y2="594.36" stroke="#1c1c1c" stroke-width="1.2"/>
<text x="1035.1" y="599.21" text-anchor="start" font-size="11.4">8</text>
<line x1="1027.1" x2="1031.5" y1="560.3" y2="560.3" stroke="#1c1c1c" stroke-width="1.2"/>
<text x="1035.1" y="565.15" text-anchor="start" font-size="11.4">10</text>
<line x1="1027.1" x2="1031.5" y1="526.24" y2="526.24" stroke="#1c1c1c" stroke-width="1.2"/>
<text x="1035.1" y="531.09" text-anchor="start" font-size="11.4">12</text>
<line x1="1027.1" x2="1031.5" y1="492.18" y2="492.18" stroke="#1c1c1c" stroke-width="1.2"/>
<text x="1035.1" y="497.03" text-anchor="start" font-size="11.4">14</text>
<line x1="1027.1" x2="1031.5" y1="458.12" y2="458.12" stroke="#1c1c1c" stroke-width="1.2"/>
<text x="1035.1" y="462.97" text-anchor="start" font-size="11.4">16</text>
<text transform="translate(564.3,585.65) rotate(-90)" text-anchor="middle" font-size="11.4">Counts</text>
<text transform="translate(1062.8,585.65) rotate(-90)" text-anchor="middle" font-size="11.4">CVD incidence rate %</text>
<text x="819.2" y="426.3" text-anchor="middle" font-size="13.8" style="letter-spacing:0">Histogram of bedtime/CVD incidence rate per 30 minutes in females</text>
<text transform="scale(1,0.9)" font-size="15.8" xml:space="preserve" style="fill:#dc432b;stroke:none;font-family:'Liberation Sans', 'Noto Sans CJK SC', sans-serif;font-weight:400"><tspan x="618" y="447.78">女性 </tspan><tspan x="653.3" y="447.78">就寝时间</tspan><tspan x="718.37" y="450.88" font-size="22.5">/</tspan><tspan x="725.8" y="447.78">心血管疾病发病率</tspan><tspan x="852.2" y="447.78"> </tspan><tspan x="856.5" y="447.78">每</tspan><tspan x="872.3" y="447.78"> </tspan><tspan x="877.9" y="447.78" letter-spacing="0.9">30</tspan><tspan x="898.3" y="447.78">分钟分布直方图</tspan></text>
<text x="549.5" y="425.8" font-size="22.8" style="fill:#111;stroke:none;font-family:'Liberation Sans', sans-serif;font-weight:700">C</text>
</svg>
<div class="shadow"></div>
</body>
</html>
